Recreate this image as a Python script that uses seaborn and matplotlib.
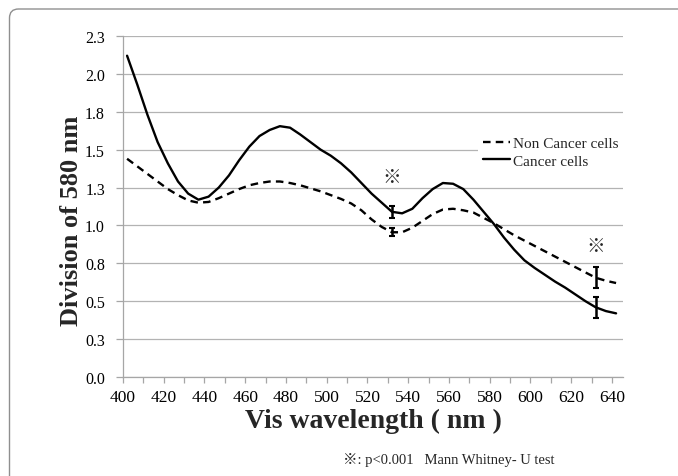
import numpy as np
import pandas as pd
import matplotlib
matplotlib.use("Agg")
import matplotlib.pyplot as plt
import matplotlib.transforms as mtransforms
from matplotlib.patches import PathPatch
from matplotlib.path import Path
from matplotlib.ticker import MultipleLocator, FixedLocator
import seaborn as sns

# ----------------------------------------------------------
# Data
# ----------------------------------------------------------
wavelength = [402, 407, 412, 417, 422, 427, 432, 437, 442, 447,
              452, 457, 462, 467, 472, 477, 482, 487, 492, 497,
              502, 507, 512, 517, 522, 527, 532, 537, 542, 547,
              552, 557, 562, 567, 572, 577, 582, 587, 592, 597,
              602, 607, 612, 617, 622, 627, 632, 637, 642]

cancer = [2.12, 1.93, 1.73, 1.55, 1.41, 1.29, 1.21, 1.17, 1.19, 1.25,
          1.33, 1.43, 1.52, 1.59, 1.63, 1.655, 1.645, 1.60, 1.55, 1.50,
          1.46, 1.41, 1.35, 1.28, 1.21, 1.15, 1.09, 1.08, 1.11, 1.18,
          1.24, 1.28, 1.275, 1.24, 1.17, 1.09, 1.01, 0.92, 0.84, 0.77,
          0.72, 0.675, 0.63, 0.59, 0.545, 0.50, 0.46, 0.435, 0.42]

non_cancer = [1.44, 1.39, 1.34, 1.29, 1.24, 1.20, 1.165, 1.15, 1.155, 1.18,
              1.21, 1.24, 1.265, 1.28, 1.29, 1.29, 1.28, 1.265, 1.245, 1.225,
              1.20, 1.175, 1.145, 1.10, 1.04, 0.99, 0.955, 0.955, 0.985, 1.03,
              1.075, 1.105, 1.11, 1.10, 1.085, 1.05, 1.015, 0.975, 0.935, 0.90,
              0.865, 0.83, 0.795, 0.76, 0.725, 0.69, 0.655, 0.635, 0.62]

series_names = ["Non Cancer cells", "Cancer cells"]

# error bars + significance marks
err_wavelength = [532, 632]
cancer_mean = [1.09, 0.46]
cancer_sd = [0.04, 0.07]
non_cancer_mean = [0.955, 0.655]
non_cancer_sd = [0.025, 0.07]
mark_y = [1.32, 0.87]

y_ticks = [0.0, 0.25, 0.5, 0.75, 1.0, 1.25, 1.5, 1.75, 2.0, 2.25]
y_tick_labels = ["0.0", "0.3", "0.5", "0.8", "1.0", "1.3", "1.5", "1.8", "2.0", "2.3"]
x_ticks = list(range(400, 641, 20))


# ----------------------------------------------------------
# Plot
# ----------------------------------------------------------
sns.set_theme(style="white")
plt.rcParams["font.family"] = ["Liberation Serif", "Noto Sans CJK JP", "DejaVu Sans"]

df = pd.DataFrame({
    "wavelength": wavelength * 2,
    "value": non_cancer + cancer,
    "group": [series_names[0]] * len(wavelength) + [series_names[1]] * len(wavelength),
})

fig = plt.figure(figsize=(6.78, 4.77), dpi=100)
ax = fig.add_axes([123 / 678, 1 - 378 / 477, 500 / 678, 341 / 477])

sns.lineplot(data=df, x="wavelength", y="value", style="group",
             style_order=series_names,
             dashes={series_names[0]: (3.2, 2.2), series_names[1]: ""},
             hue="group", palette={n: "black" for n in series_names},
             linewidth=1.7, ax=ax, legend=False, sort=False)

ax.errorbar(err_wavelength, cancer_mean, yerr=cancer_sd, fmt="none",
            ecolor="black", elinewidth=1.8, capsize=2, capthick=1.5, zorder=5)
ax.errorbar(err_wavelength, non_cancer_mean, yerr=non_cancer_sd, fmt="none",
            ecolor="black", elinewidth=1.8, capsize=2, capthick=1.5, zorder=5)

for wx, wy in zip(err_wavelength, mark_y):
    ax.text(wx, wy, "※", ha="center", va="center", fontsize=13.5,
            family=["Noto Sans CJK JP", "DejaVu Sans"])

ax.set_xlim(400, 645.4)
ax.set_ylim(0, 2.25)
ax.yaxis.set_major_locator(FixedLocator(y_ticks))
ax.set_yticklabels(y_tick_labels)
ax.xaxis.set_major_locator(FixedLocator(x_ticks))
ax.xaxis.set_minor_locator(MultipleLocator(10))
ax.set_xticklabels([str(t) for t in x_ticks])

ax.grid(axis="y", color="#b3b3b3", linewidth=0.9)
ax.grid(axis="x", visible=False)
ax.set_axisbelow(True)
for s in ["top", "right"]:
    ax.spines[s].set_visible(False)
for s in ["left", "bottom"]:
    ax.spines[s].set_color("#a6a6a6")
    ax.spines[s].set_linewidth(0.9)

ax.tick_params(axis="both", which="both", direction="out", color="#a6a6a6",
               labelcolor="black")
ax.tick_params(axis="x", which="both", length=4, width=0.9, bottom=True,
               pad=5, labelsize=12.5)
ax.tick_params(axis="y", length=5, width=0.9, left=True, pad=8, labelsize=11.5)

ax.set_xlabel("Vis wavelength ( nm )", fontsize=20, fontweight="bold")
ax.set_ylabel("Division of 580 nm", fontsize=19, fontweight="bold")
ax.xaxis.set_label_coords(0.5, (378 - 421) / 341)
ax.xaxis.label.set_va("center")
ax.yaxis.set_label_coords((72 - 123) / 500, (378 - 221) / 341)
ax.yaxis.label.set_va("center")

handles = ax.get_lines()[:2]
ax.legend(handles, series_names, loc="upper left",
          bbox_to_anchor=(478 / 678, 1 - 133 / 477), bbox_transform=fig.transFigure,
          frameon=True, fancybox=False, edgecolor="none", facecolor="white",
          framealpha=1, fontsize=11, handlelength=1.8, handletextpad=0.2,
          labelspacing=0.25, borderpad=0.3, borderaxespad=0)

fig.text(343 / 678, 1 - 460 / 477, "※: p<0.001   Mann Whitney- U test",
         fontsize=10.5, ha="left", va="center")

# outer frame: top and left edges with a rounded corner (display pixels)
x0, top, r = 9.5, 467.0, 9.0
frame_path = Path(
    [(700, top), (x0 + r, top), (x0, top), (x0, top - r), (x0, -10)],
    [Path.MOVETO, Path.LINETO, Path.CURVE3, Path.CURVE3, Path.LINETO])
fig.patches.append(PathPatch(frame_path, facecolor="none", edgecolor="#8f8f8f",
                             linewidth=1.0, transform=mtransforms.IdentityTransform(),
                             clip_on=False))

fig.savefig("out.png", dpi=100)
plt.close(fig)
